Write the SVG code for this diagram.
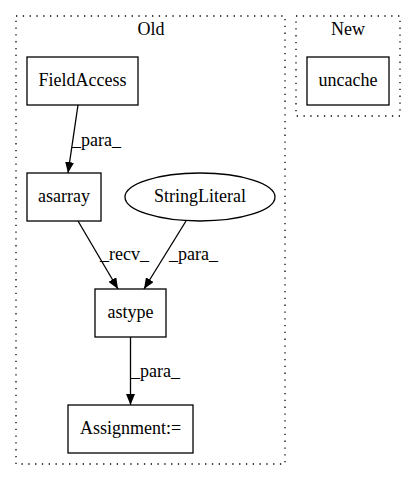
<svg xmlns="http://www.w3.org/2000/svg" width="416" height="480" viewBox="0 0 416 480">
<defs>
<style>
text{font-family:"Liberation Serif","Times New Roman",serif;font-size:18px;fill:#000;text-anchor:middle}
.cl{fill:none;stroke:#000;stroke-width:1.3;stroke-dasharray:1.3,5.5}
.nd{fill:none;stroke:#000;stroke-width:1.3}
.ed{fill:none;stroke:#000;stroke-width:1.3}
.lb{text-anchor:start}
</style>
<marker id="ah" viewBox="0 0 10 7" refX="10" refY="3.5" markerWidth="11" markerHeight="9" markerUnits="userSpaceOnUse" orient="auto" preserveAspectRatio="none">
<path d="M0,0 L10,3.5 L0,7 z" fill="#000"/>
</marker>
</defs>
<rect width="416" height="480" fill="#fff"/>
<g id="cluster_old">
<rect class="cl" x="16" y="16" width="269" height="448"/>
<text x="151" y="35">Old</text>
</g>
<g id="cluster_new">
<rect class="cl" x="296" y="16" width="104" height="100"/>
<text x="348" y="35">New</text>
</g>
<g id="FieldAccess">
<rect class="nd" x="27" y="57" width="111" height="48"/>
<text x="82.5" y="86">FieldAccess</text>
</g>
<g id="uncache">
<rect class="nd" x="307" y="57" width="82" height="48"/>
<text x="348" y="86">uncache</text>
</g>
<g id="asarray">
<rect class="nd" x="27" y="173" width="74" height="48"/>
<text x="64" y="202">asarray</text>
</g>
<g id="StringLiteral">
<ellipse class="nd" cx="200" cy="197" rx="75" ry="24"/>
<text x="200" y="202">StringLiteral</text>
</g>
<g id="astype">
<rect class="nd" x="95" y="289" width="71" height="48"/>
<text x="130.5" y="318">astype</text>
</g>
<g id="Assignment">
<rect class="nd" x="68" y="405" width="125" height="48"/>
<text x="130.5" y="434">Assignment:=</text>
</g>
<g id="connectors">
<path class="ed" d="M78,105 L68,173" marker-end="url(#ah)"/>
<text class="lb" x="72" y="146">_para_</text>
<path class="ed" d="M78,221 L118,289" marker-end="url(#ah)"/>
<text class="lb" x="100" y="260">_recv_</text>
<path class="ed" d="M186,221 L144,289" marker-end="url(#ah)"/>
<text class="lb" x="169" y="260">_para_</text>
<path class="ed" d="M130.5,337 L130.5,405" marker-end="url(#ah)"/>
<text class="lb" x="131" y="377">_para_</text>
</g>
</svg>
